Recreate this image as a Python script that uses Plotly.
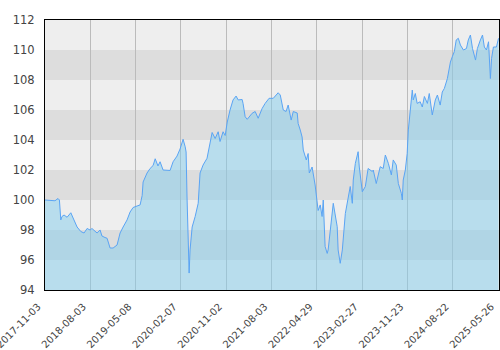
import plotly.graph_objects as go

# trading-session index of each sample and the value read at it
session = [0, 22, 43, 56, 62, 68, 73, 82, 95, 111, 125, 138, 154, 168, 181, 194, 202, 215, 224, 237,
           245, 258, 267, 280, 293, 310, 323, 336, 353, 366, 379, 396, 409, 418, 422, 439, 452, 465, 474, 486,
           495, 508, 525, 538, 551, 568, 581, 594, 603, 607, 611, 616, 620, 624, 633, 646, 659, 667, 680, 697,
           710, 719, 732, 745, 753, 766, 775, 784, 796, 809, 822, 831, 848, 852, 861, 870, 891, 904, 917, 934,
           947, 964, 982, 1003, 1012, 1025, 1037, 1046, 1059, 1068, 1085, 1089, 1098, 1106, 1111, 1124, 1132, 1137, 1149, 1154,
           1162, 1175, 1184, 1192, 1197, 1205, 1214, 1218, 1227, 1240, 1257, 1261, 1270, 1279, 1292, 1304, 1313, 1322, 1326, 1335,
           1347, 1352, 1365, 1378, 1390, 1408, 1412, 1425, 1442, 1455, 1464, 1477, 1490, 1498, 1511, 1520, 1533, 1537, 1541, 1550,
           1558, 1563, 1571, 1580, 1584, 1593, 1601, 1614, 1623, 1632, 1645, 1653, 1666, 1679, 1688, 1700, 1709, 1718, 1731, 1744,
           1752, 1761, 1769, 1778, 1787, 1800, 1813, 1821, 1830, 1839, 1852, 1860, 1873, 1882, 1890, 1899, 1908, 1916, 1921, 1929,
           1942, 1951]
values = [100.0, 99.95, 99.95, 100.1, 100.0, 98.67, 98.9, 99.0, 98.85, 99.15, 98.7, 98.2, 97.9, 97.8, 98.1, 98.0, 98.1, 97.95, 97.8, 98.0,
          97.6, 97.5, 97.45, 96.8, 96.8, 97.0, 97.8, 98.2, 98.67, 99.2, 99.5, 99.6, 99.67, 100.3, 101.2, 101.8, 102.1, 102.3, 102.75, 102.27,
          102.55, 102.0, 101.96, 101.97, 102.55, 102.93, 103.4, 104.05, 103.55, 103.2, 100.2, 96.5, 95.13, 96.67, 98.2, 98.9, 99.78, 101.8, 102.33, 102.78,
          103.7, 104.5, 104.1, 104.55, 103.9, 104.55, 104.3, 105.2, 106.0, 106.67, 106.93, 106.67, 106.7, 106.44, 105.55, 105.38, 105.78, 105.9, 105.45, 106.1,
          106.44, 106.78, 106.78, 107.15, 107.0, 106.0, 105.9, 106.33, 105.33, 105.9, 105.8, 105.1, 104.67, 104.2, 103.33, 102.67, 103.1, 101.8, 102.2, 101.8,
          101.0, 99.3, 99.67, 98.9, 100.0, 96.9, 96.44, 96.67, 97.8, 99.78, 98.22, 96.67, 95.78, 96.67, 99.1, 100.22, 100.9, 99.78, 101.33, 102.44,
          103.22, 102.2, 100.55, 100.9, 102.1, 101.9, 102.0, 101.1, 102.22, 102.1, 103.0, 102.44, 101.67, 102.67, 102.33, 101.1, 100.44, 100.0, 101.33, 102.0,
          103.1, 104.67, 106.0, 107.33, 106.67, 107.1, 106.44, 106.55, 106.2, 106.9, 106.44, 107.1, 105.67, 106.67, 107.0, 106.33, 107.2, 107.44, 108.1, 109.2,
          109.55, 109.9, 110.67, 110.78, 110.33, 110.0, 110.1, 110.67, 111.0, 110.1, 109.33, 110.1, 110.67, 111.0, 110.2, 110.0, 110.55, 108.1, 109.44, 110.2,
          110.2, 110.78]

tick_sessions = [0, 195, 390, 585, 780, 975, 1170, 1365, 1560, 1755, 1950]
tick_labels = ["2017-11-03", "2018-08-03", "2019-05-08", "2020-02-07", "2020-11-02", "2021-08-03",
               "2022-04-29", "2023-02-27", "2023-11-23", "2024-08-22", "2025-05-26"]
y_ticks = [94, 96, 98, 100, 102, 104, 106, 108, 110, 112]

fig = go.Figure()
fig.add_trace(go.Scatter(
    x=session, y=values, mode="lines",
    line=dict(color="#5aa4f4", width=1),
    fill="tozeroy", fillcolor="rgba(135,206,235,0.52)",
    hoverinfo="skip", showlegend=False,
))

shapes = []
for i in range(len(y_ticks) - 1):
    shapes.append(dict(
        type="rect", xref="paper", yref="y", x0=0, x1=1,
        y0=y_ticks[i], y1=y_ticks[i + 1],
        fillcolor="#eeeeee" if i % 2 == 0 else "#dddddd",
        line=dict(width=0), layer="below",
    ))
fig.update_layout(
    width=500, height=350,
    margin=dict(l=45, r=1, t=20, b=60),
    paper_bgcolor="white", plot_bgcolor="#eeeeee",
    shapes=shapes,
    font=dict(family="DejaVu Sans", size=11, color="#444444"),
    xaxis=dict(
        range=[0, 1953], tickmode="array", tickvals=tick_sessions, ticktext=tick_labels,
        tickangle=-45, showgrid=True, gridcolor="#bbbbbb", gridwidth=1,
        showline=True, linecolor="black", linewidth=1, mirror=True,
        zeroline=False, ticks="", tickfont=dict(size=10, color="#444444"),
        ticklabeloverflow="allow", automargin=False,
        ticklabelshift=-7, ticklabelstandoff=6,
        layer="above traces",
    ),
    yaxis=dict(
        range=[94, 112], tickmode="array", tickvals=y_ticks,
        showgrid=False, zeroline=False,
        showline=True, linecolor="black", linewidth=1, mirror=True,
        ticks="", ticklabelstandoff=7, tickfont=dict(size=11.5, color="#444444"),
        automargin=False,
    ),
)
fig.write_html("out.html")
